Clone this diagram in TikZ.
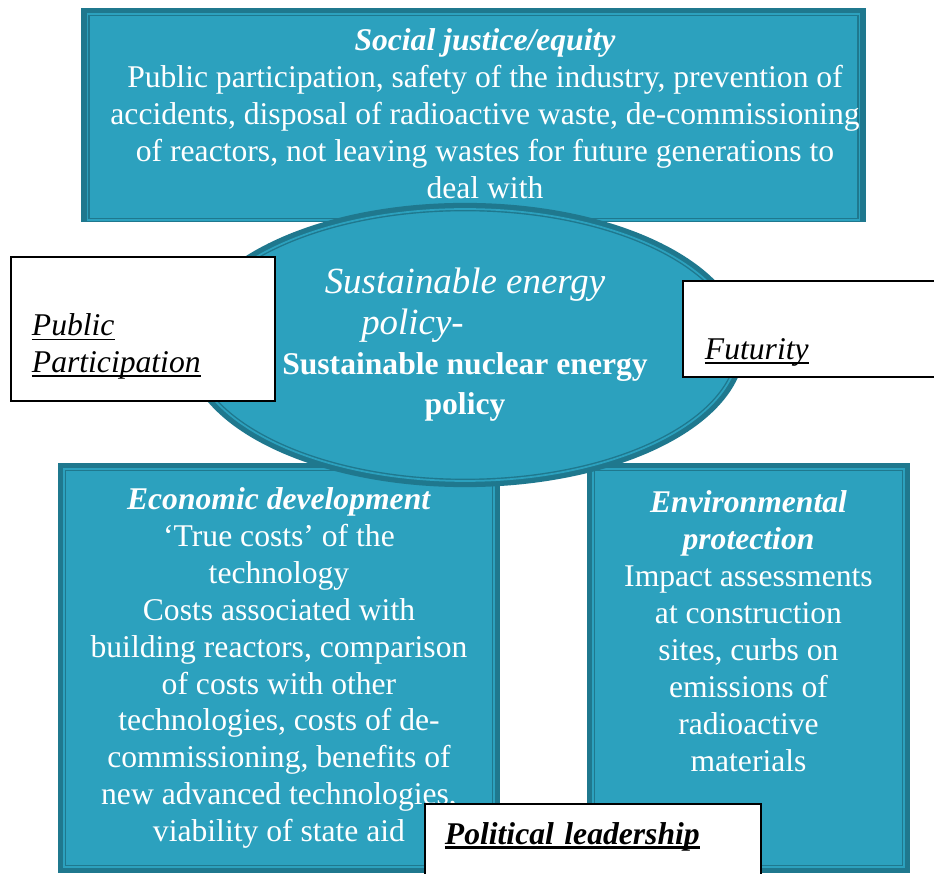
\documentclass[tikz,border=0pt]{standalone}
\usepackage{fontspec}
\setmainfont{Liberation Serif}
\usepackage{xcolor}
\usetikzlibrary{positioning}
\usetikzlibrary{shapes}

\definecolor{tealfill}{RGB}{44,161,190}
\definecolor{tealdark}{RGB}{31,120,142}

% underline sitting close to the baseline
\newlength\ulwd
\newcommand\lineunder[2][0.9pt]{\leavevmode\settowidth\ulwd{#2}\rlap{\rule[-2.6pt]{\ulwd}{#1}}#2}

\tikzset{
  pillar/.style={fill=tealfill, text=white, align=center, inner sep=0pt,
    font=\fontsize{18}{21}\selectfont,
    preaction={draw=tealdark, line width=7pt},
    postaction={draw=tealdark, line width=2.6pt},
    postaction={draw=tealfill, line width=1pt}},
  tag/.style={draw=black, fill=white, line width=1.1pt, align=left, anchor=north west,
    inner ysep=0pt, font=\fontsize{18}{21}\selectfont\itshape}
}

\begin{document}
\begin{tikzpicture}[x=0.02cm, y=-0.02cm]
\useasboundingbox (0,0) rectangle (934,874);
\clip (0,0) rectangle (934,874);

% top pillar, its lower edge is cut off
\begin{scope}
	\clip (0,0) rectangle (934,222);
	\node[pillar, minimum width=15.42cm, minimum height=4.12cm] (social) at (473.5,117) {\hspace*{0.46cm}\begin{tabular}{@{}c@{}}
		\textbf{\textit{Social justice/equity}}\\ Public participation, safety of the industry, prevention of\\ accidents, disposal of radioactive waste, de-commissioning\\ of reactors, not leaving wastes for future generations to\\ deal with
		\end{tabular}};
\end{scope}

\node[pillar, minimum width=8.6cm, minimum height=7.96cm] (econ) at (279,668) {\textbf{\textit{Economic development}}\\ `True costs' of the\\ technology\\ Costs associated with\\ building reactors, comparison\\ of costs with other\\ technologies, costs of de-\\ commissioning, benefits of\\ new advanced technologies,\\ viability of state aid};
\node[pillar, minimum width=6.22cm, minimum height=7.96cm] (env) at (748.5,668) {\textbf{\textit{Environmental}}\\ \textbf{\textit{protection}}\\ Impact assessments\\ at construction\\ sites, curbs on\\ emissions of\\ radioactive\\ materials\\ \mbox{}\\ \mbox{}};

\node[pillar, ellipse, minimum width=10.96cm, minimum height=5.44cm, font=\fontsize{18}{23}\selectfont] (policy) at (465,345) {{\fontsize{21}{23}\selectfont\itshape Sustainable energy}\\ {\fontsize{21}{23}\selectfont\itshape\hspace*{-2.1cm}policy-}\\ \textbf{Sustainable nuclear energy}\\ \textbf{policy}};

% white labels laid over the pillars
\node[tag, text width=4.44cm, inner xsep=0.42cm, minimum height=2.88cm] (public) at (10,256) {\mbox{}\\[0.4cm] \lineunder{Public}\\ \lineunder{Participation}};
\node[tag, text width=4.8cm, inner xsep=0.44cm, minimum height=1.92cm] (futurity) at (682,280) {\mbox{}\\[0.62cm] \lineunder{Futurity}};
\node[tag, text width=5.92cm, inner xsep=0.4cm, minimum height=1.92cm, font=\fontsize{18}{21}\selectfont\bfseries\itshape] (leader) at (424,803) {\lineunder[1.6pt]{Political leadership}\\ \mbox{}};
\end{tikzpicture}
\end{document}
